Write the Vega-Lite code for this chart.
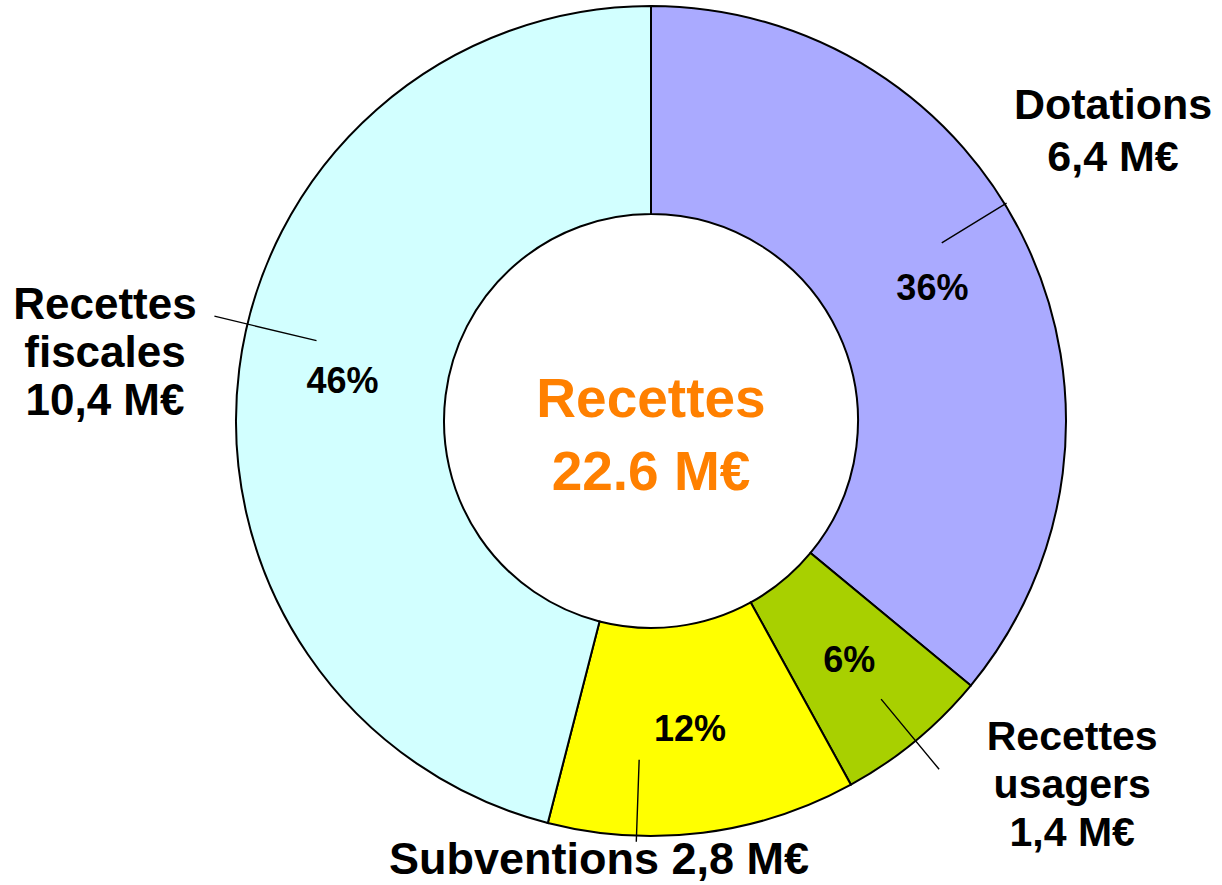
{
  "$schema": "https://vega.github.io/schema/vega-lite/v6.json",
  "width": 1142,
  "height": 842,
  "autosize": {"type": "none"},
  "padding": {"left": 80, "top": 0, "right": 0, "bottom": 43},
  "background": "white",
  "config": {"view": {"stroke": null}, "font": "Liberation Sans"},
  "data": {
    "values": [
      {"i": 1, "cat": "Dotations", "value": 0.36, "label": "Dotations\n6,4 M€"},
      {"i": 2, "cat": "Recettes usagers", "value": 0.06, "label": "Recettes\nusagers\n1,4 M€"},
      {"i": 3, "cat": "Subventions", "value": 0.12, "label": "Subventions 2,8 M€"},
      {"i": 4, "cat": "Recettes fiscales", "value": 0.46, "label": "Recettes\nfiscales\n10,4 M€"}
    ]
  },
  "layer": [
    {
      "mark": {"type": "arc", "outerRadius": 415, "innerRadius": 207, "stroke": "black", "strokeWidth": 2},
      "encoding": {
        "theta": {"field": "value", "type": "quantitative", "stack": true},
        "order": {"field": "i", "type": "quantitative"},
        "color": {
          "field": "cat", "type": "nominal", "legend": null,
          "scale": {"domain": ["Dotations", "Recettes usagers", "Subventions", "Recettes fiscales"], "range": ["#AAAAFF", "#A8D000", "#FFFF00", "#D2FFFF"]}
        }
      }
    },
    {
      "mark": {"type": "text", "radius": 311, "fontSize": 36, "fontWeight": "bold", "color": "black", "align": "center", "baseline": "middle"},
      "encoding": {
        "theta": {"field": "value", "type": "quantitative", "stack": true},
        "order": {"field": "i", "type": "quantitative"},
        "text": {"field": "value", "type": "quantitative", "format": ".0%"}
      }
    },
    {
      "mark": {"type": "text", "radius": 559, "thetaOffset": -0.158, "fontSize": 43, "fontWeight": "bold", "color": "black", "align": "center", "baseline": "middle", "lineBreak": "\n", "lineHeight": 52},
      "encoding": {
        "theta": {"field": "value", "type": "quantitative", "stack": true},
        "order": {"field": "i", "type": "quantitative"},
        "text": {"field": "label", "type": "nominal"},
        "opacity": {"condition": {"test": "datum.cat === 'Dotations'", "value": 1}, "value": 0}
      }
    },
    {
      "mark": {"type": "text", "radius": 527, "thetaOffset": -0.2349, "fontSize": 41, "fontWeight": "bold", "color": "black", "align": "center", "baseline": "middle", "lineBreak": "\n", "lineHeight": 48},
      "encoding": {
        "theta": {"field": "value", "type": "quantitative", "stack": true},
        "order": {"field": "i", "type": "quantitative"},
        "text": {"field": "label", "type": "nominal"},
        "opacity": {"condition": {"test": "datum.cat === 'Recettes usagers'", "value": 1}, "value": 0}
      }
    },
    {
      "mark": {"type": "text", "radius": 442, "thetaOffset": 0.2435, "fontSize": 45, "fontWeight": "bold", "color": "black", "align": "center", "baseline": "middle", "lineBreak": "\n"},
      "encoding": {
        "theta": {"field": "value", "type": "quantitative", "stack": true},
        "order": {"field": "i", "type": "quantitative"},
        "text": {"field": "label", "type": "nominal"},
        "opacity": {"condition": {"test": "datum.cat === 'Subventions'", "value": 1}, "value": 0}
      }
    },
    {
      "mark": {"type": "text", "radius": 558, "thetaOffset": 0.082, "fontSize": 44, "fontWeight": "bold", "color": "black", "align": "center", "baseline": "middle", "lineBreak": "\n", "lineHeight": 48},
      "encoding": {
        "theta": {"field": "value", "type": "quantitative", "stack": true},
        "order": {"field": "i", "type": "quantitative"},
        "text": {"field": "label", "type": "nominal"},
        "opacity": {"condition": {"test": "datum.cat === 'Recettes fiscales'", "value": 1}, "value": 0}
      }
    },
    {
      "mark": {"type": "arc", "innerRadius": 341, "outerRadius": 417, "padAngle": 3, "thetaOffset": -0.11, "theta2Offset": -0.11, "fill": "transparent", "stroke": "black", "strokeWidth": 1.4},
      "encoding": {
        "theta": {"field": "value", "type": "quantitative", "stack": true},
        "order": {"field": "i", "type": "quantitative"},
        "strokeOpacity": {"condition": {"test": "datum.cat === 'Dotations'", "value": 1}, "value": 0}
      }
    },
    {
      "mark": {"type": "arc", "innerRadius": 361, "outerRadius": 452, "padAngle": 3, "fill": "transparent", "stroke": "black", "strokeWidth": 1.4},
      "encoding": {
        "theta": {"field": "value", "type": "quantitative", "stack": true},
        "order": {"field": "i", "type": "quantitative"},
        "strokeOpacity": {"condition": {"test": "datum.cat === 'Recettes usagers'", "value": 1}, "value": 0}
      }
    },
    {
      "mark": {"type": "arc", "innerRadius": 339, "outerRadius": 421, "padAngle": 3, "thetaOffset": 0.1606, "theta2Offset": 0.1606, "fill": "transparent", "stroke": "black", "strokeWidth": 1.4},
      "encoding": {
        "theta": {"field": "value", "type": "quantitative", "stack": true},
        "order": {"field": "i", "type": "quantitative"},
        "strokeOpacity": {"condition": {"test": "datum.cat === 'Subventions'", "value": 1}, "value": 0}
      }
    },
    {
      "mark": {"type": "arc", "innerRadius": 344, "outerRadius": 449, "padAngle": 3, "thetaOffset": 0.110, "theta2Offset": 0.110, "fill": "transparent", "stroke": "black", "strokeWidth": 1.4},
      "encoding": {
        "theta": {"field": "value", "type": "quantitative", "stack": true},
        "order": {"field": "i", "type": "quantitative"},
        "strokeOpacity": {"condition": {"test": "datum.cat === 'Recettes fiscales'", "value": 1}, "value": 0}
      }
    },
    {
      "data": {"values": [{"title": "Recettes\n22.6 M€"}]},
      "mark": {"type": "text", "fontSize": 55, "fontWeight": "bold", "color": "#FF8000", "align": "center", "baseline": "middle", "lineBreak": "\n", "lineHeight": 73, "dy": -21},
      "encoding": {
        "text": {"field": "title", "type": "nominal"}
      }
    }
  ]
}
